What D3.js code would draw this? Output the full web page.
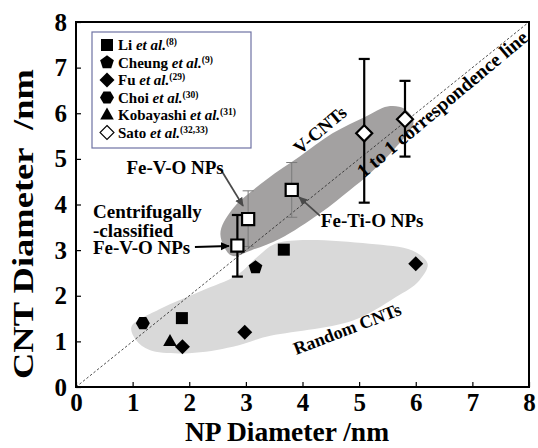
<!DOCTYPE html>
<html><head><meta charset="utf-8">
<script src="https://cdn.jsdelivr.net/npm/d3@7"></script>
<style>body{margin:0;background:#fff}svg{display:block}</style>
</head><body><svg id="c" width="538" height="448"></svg>
<script>
// ---- data ----
const liX = [1.87, 3.67], liY = [1.51, 3.01];
const cheungX = [3.17], cheungY = [2.62];
const fuX = [1.88, 2.98, 6.00], fuY = [0.88, 1.20, 2.70];
const choiX = [1.18], choiY = [1.40];
const kobayashiX = [1.66], kobayashiY = [1.00];
const npX = [2.85, 3.04, 3.81], npY = [3.10, 3.68, 4.32];
const npLow = [2.42, 3.08, 3.72], npHigh = [3.77, 4.30, 4.92];
const npErrKind = ["black", "gray", "gray"];
const satoX = [5.09, 5.81], satoY = [5.56, 5.87];
const satoLow = [4.04, 5.05], satoHigh = [7.19, 6.71];
const xTicks = [0, 1, 2, 3, 4, 5, 6, 7, 8];
const yTicks = [0, 1, 2, 3, 4, 5, 6, 7, 8];
const legendNames = ["Li ", "Cheung ", "Fu ", "Choi ", "Kobayashi ", "Sato "];
const legendRefs = ["(8)", "(9)", "(29)", "(30)", "(31)", "(32,33)"];
const legendShapes = ["square", "pentagon", "diamond", "hexagon", "triangle", "openDiamond"];
// region outlines (data units)
const vcntRegion = [[2.55,3.35],[2.75,3.88],[3.36,4.54],[3.95,5.05],[4.53,5.56],[5.12,5.93],[5.5,6.15],[5.8,6.1],[5.96,5.8],[5.66,5.27],[5.19,4.68],[4.84,4.32],[4.31,3.81],[3.6,3.25],[3.1,3.0],[2.75,2.88]];
const randomRegion = [[0.98,1.32],[1.5,1.72],[2.2,2.1],[2.84,2.45],[3.2,2.85],[3.5,3.13],[4.0,3.22],[5.18,3.14],[5.94,2.99],[6.21,2.7],[6.06,2.33],[5.65,1.97],[4.88,1.45],[3.36,1.1],[2.77,0.88],[2.0,0.74],[1.3,0.81],[1.06,1.03]];

// ---- setup ----
const svg = d3.select("#c");
const FONT = "'Liberation Serif','Times New Roman',serif";
const x = d3.scaleLinear().domain([0, 8]).range([76, 529]);
const y = d3.scaleLinear().domain([0, 8]).range([387, 22]);

function poly(n, r, rotDeg) {
  const pts = [];
  for (let i = 0; i < n; i++) {
    const a = (rotDeg + i * 360 / n) * Math.PI / 180;
    pts.push([r * Math.cos(a), r * Math.sin(a)]);
  }
  return "M" + pts.map(p => p[0].toFixed(2) + "," + p[1].toFixed(2)).join("L") + "Z";
}
const shapePath = {
  square: poly(4, 8.5, 45),
  pentagon: poly(5, 7.2, -90),
  diamond: poly(4, 7.5, -90),
  hexagon: poly(6, 7, 0),
  triangle: "M0,-7.5L6.8,4.5L-6.8,4.5Z",
  openDiamond: poly(4, 7, -90)
};

// ---- regions ----
const line = d3.line().x(d => x(d[0])).y(d => y(d[1])).curve(d3.curveCatmullRomClosed.alpha(0.5));
svg.append("path").attr("d", line(randomRegion)).attr("fill", "#d9d9d9");
svg.append("path").attr("d", line(vcntRegion)).attr("fill", "#a3a1a1");

// ---- 1:1 line ----
svg.append("line").attr("x1", x(0)).attr("y1", y(0)).attr("x2", x(8)).attr("y2", y(8))
  .attr("stroke", "#222").attr("stroke-width", 0.8).attr("stroke-dasharray", "2.5,2");

// ---- axes ----
const gx = svg.append("g").attr("transform", `translate(0,${y(0)})`)
  .call(d3.axisBottom(x).tickValues(xTicks).tickSizeInner(-5).tickSizeOuter(0).tickPadding(6).tickFormat(d3.format("d")));
const gy = svg.append("g").attr("transform", `translate(${x(0)},0)`)
  .call(d3.axisLeft(y).tickValues(yTicks).tickSizeInner(-5).tickSizeOuter(0).tickPadding(9).tickFormat(d3.format("d")));
[gx, gy].forEach(g => {
  g.select(".domain").remove();
  g.selectAll(".tick line").attr("stroke", "#000").attr("stroke-width", 1.2);
  g.selectAll(".tick text").attr("font-family", FONT).attr("font-weight", "bold").attr("font-size", 25).attr("fill", "#000");
});
svg.append("rect").attr("x", x(0)).attr("y", y(8)).attr("width", x(8) - x(0)).attr("height", y(0) - y(8))
  .attr("fill", "none").attr("stroke", "#000").attr("stroke-width", 2);

// ---- error bars ----
function errBar(cx, lo, hi, kind) {
  const col = kind === "black" ? "#000" : "#7a7a7a";
  const w = kind === "black" ? 2.2 : 1;
  const g = svg.append("g").attr("stroke", col).attr("stroke-width", w);
  g.append("line").attr("x1", x(cx)).attr("x2", x(cx)).attr("y1", y(lo)).attr("y2", y(hi));
  [lo, hi].forEach(v => g.append("line").attr("x1", x(cx) - 5.5).attr("x2", x(cx) + 5.5).attr("y1", y(v)).attr("y2", y(v)));
}
npX.forEach((v, i) => errBar(v, npLow[i], npHigh[i], npErrKind[i]));
satoX.forEach((v, i) => errBar(v, satoLow[i], satoHigh[i], "black"));

// ---- markers ----
function filled(xs, ys, shape) {
  xs.forEach((v, i) => svg.append("path").attr("d", shapePath[shape])
    .attr("transform", `translate(${x(v)},${y(ys[i])})`).attr("fill", "#000"));
}
filled(liX, liY, "square");
filled(cheungX, cheungY, "pentagon");
filled(fuX, fuY, "diamond");
filled(choiX, choiY, "hexagon");
filled(kobayashiX, kobayashiY, "triangle");
npX.forEach((v, i) => svg.append("path").attr("d", poly(4, 8.6, 45))
  .attr("transform", `translate(${x(v)},${y(npY[i])})`).attr("fill", "#fff").attr("stroke", "#000").attr("stroke-width", 2.2));
satoX.forEach((v, i) => svg.append("path").attr("d", poly(4, 8, -90))
  .attr("transform", `translate(${x(v)},${y(satoY[i])})`).attr("fill", "#fff").attr("stroke", "#000").attr("stroke-width", 2.2));

// ---- arrows ----
const defs = svg.append("defs");
function marker(id, col) {
  defs.append("marker").attr("id", id).attr("viewBox", "0 0 10 10").attr("refX", 9).attr("refY", 5)
    .attr("markerWidth", 9).attr("markerHeight", 9).attr("markerUnits", "userSpaceOnUse").attr("orient", "auto")
    .append("path").attr("d", "M0,0.5L10,5L0,9.5Z").attr("fill", col);
}
marker("ab", "#000"); marker("ag", "#4a4a4a");
const arrows = [
  {from: [2.10, 3.07], to: [2.70, 3.09], col: "#000", m: "ab", w: 2},
  {from: [2.56, 4.76], to: [2.95, 3.97], col: "#4a4a4a", m: "ag", w: 1.8},
  {from: [4.31, 3.75], to: [3.94, 4.16], col: "#4a4a4a", m: "ag", w: 1.8}
];
arrows.forEach(a => svg.append("line").attr("x1", x(a.from[0])).attr("y1", y(a.from[1]))
  .attr("x2", x(a.to[0])).attr("y2", y(a.to[1])).attr("stroke", a.col).attr("stroke-width", a.w)
  .attr("marker-end", `url(#${a.m})`));

// ---- annotations ----
function label(txt, dx, dy, size, anchor, rot) {
  return svg.append("text").attr("font-family", FONT).attr("font-weight", "bold").attr("font-size", size)
    .attr("text-anchor", anchor).attr("dominant-baseline", "central").attr("fill", "#000")
    .attr("transform", `translate(${x(dx)},${y(dy)}) rotate(${rot || 0})`).text(txt);
}
label("Centrifugally", 0.30, 3.84, 19, "start");
label("-classified", 0.30, 3.44, 19, "start");
label("Fe-V-O NPs", 0.30, 3.05, 19, "start");
label("Fe-V-O NPs", 1.75, 4.82, 19, "middle");
label("Fe-Ti-O NPs", 5.23, 3.66, 19, "middle");
label("V-CNTs", 4.31, 5.63, 18.5, "middle", -40);
label("1 to 1 correspondence line", 6.47, 6.20, 19.5, "middle", -40);
label("Random CNTs", 4.79, 1.27, 18, "middle", -21);

// ---- axis titles ----
svg.append("text").attr("x", 287).attr("y", 441).attr("text-anchor", "middle")
  .attr("font-family", FONT).attr("font-weight", "bold").attr("font-size", 27.5).text("NP Diameter /nm");
svg.append("text").attr("transform", "translate(33,224) rotate(-90)").attr("text-anchor", "middle")
  .attr("font-family", FONT).attr("font-weight", "bold").attr("font-size", 30)
  .attr("textLength", 310).attr("lengthAdjust", "spacingAndGlyphs")
  .attr("xml:space", "preserve").style("white-space", "pre").text("CNT Diameter  /nm");

// ---- legend ----
const lg = svg.append("g");
lg.append("rect").attr("x", 92).attr("y", 32).attr("width", 159).attr("height", 116)
  .attr("fill", "#fff").attr("stroke", "#6e72a3").attr("stroke-width", 1.2);
legendNames.forEach((nm, i) => {
  const cy = 45 + i * 17.5;
  const sh = legendShapes[i];
  const p = lg.append("path").attr("d", shapePath[sh]).attr("transform", `translate(107,${cy})`);
  if (sh === "openDiamond") p.attr("fill", "#fff").attr("stroke", "#000").attr("stroke-width", 1.1);
  else p.attr("fill", "#000");
  const t = lg.append("text").attr("x", 118).attr("y", cy + 5).attr("font-family", FONT)
    .attr("font-weight", "bold").attr("font-size", 15).attr("fill", "#000");
  t.append("tspan").text(nm);
  t.append("tspan").attr("font-style", "italic").text("et al.");
  t.append("tspan").attr("font-size", 9.5).attr("dy", -5).text(legendRefs[i]);
});
</script></body></html>
